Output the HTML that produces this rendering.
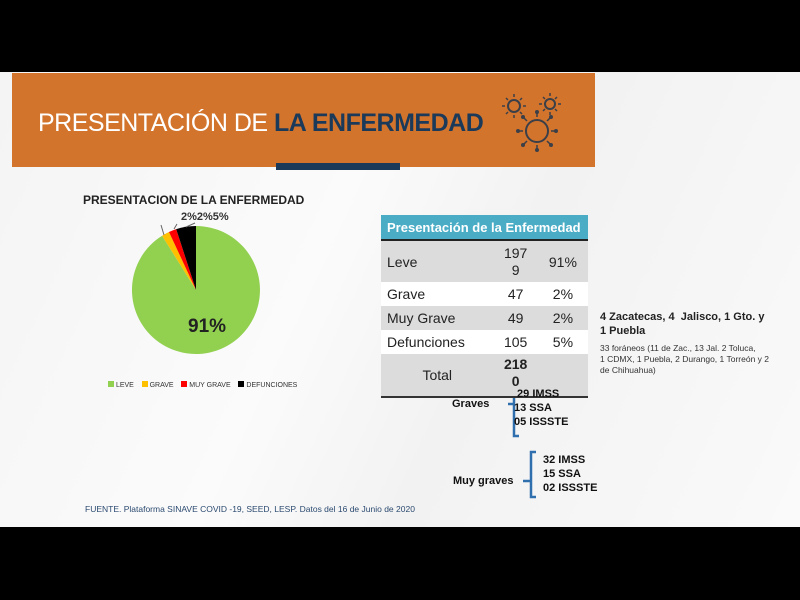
<!DOCTYPE html>
<html><head><meta charset="utf-8"><style>
body{margin:0;width:800px;height:600px;background:#000;position:relative;overflow:hidden;font-family:"Liberation Sans",sans-serif}
.slide{position:absolute;left:0;top:72px;width:800px;height:455px;background:linear-gradient(115deg,#f4f4f4 0%,#fbfbfb 40%,#f2f2f2 60%,#fafafa 100%)}
.hdr{position:absolute;left:12px;top:73px;width:583px;height:94px;background:#d3742d}
.title{position:absolute;left:38px;top:109px;font-size:25px;color:#fff;letter-spacing:-0.5px;white-space:nowrap}
.title b{color:#1b3a5a}
.bar{position:absolute;left:276px;top:163px;width:124px;height:7px;background:#1b3a5a}
.a{position:absolute;white-space:nowrap}
table{position:absolute;left:381px;top:215px;width:207px;border-collapse:collapse;font-size:14px;color:#222}
td{padding:0 6px}
</style></head><body>
<div class="slide"></div>
<div class="hdr"></div>
<div class="title">PRESENTACIÓN DE <b>LA ENFERMEDAD</b></div>
<div class="bar"></div>
<svg style="position:absolute;left:0;top:0" width="800" height="600">
<g fill="none" stroke="#3b3f48" stroke-width="2">
<circle cx="514" cy="106" r="6"/><circle cx="550" cy="104" r="5"/><circle cx="537" cy="131" r="11"/>
<g stroke-width="1.5">
<path d="M514 97v-3M514 115v3M505 106h-3M523 106h3M508 100l-2-2M520 112l2 2M520 100l2-2M508 112l-2 2"/>
<path d="M550 96v-3M550 112v3M542 104h-3M558 104h3M545 99l-2-2M555 109l2 2M555 99l2-2M545 109l-2 2"/>
<path d="M537 117v-4M537 145v4M523 131h-4M551 131h4M527 121l-3-3M547 141l3 3M547 121l3-3M527 141l-3 3"/>
</g></g>
<g fill="#3b3f48"><circle cx="537" cy="112" r="2"/><circle cx="537" cy="150" r="2"/><circle cx="518" cy="131" r="2"/><circle cx="556" cy="131" r="2"/><circle cx="523" cy="117" r="2"/><circle cx="551" cy="145" r="2"/><circle cx="551" cy="117" r="2"/><circle cx="523" cy="145" r="2"/></g>
<path d="M196 290 L196 226 A64 64 0 1 1 162.1 235.7 Z" fill="#92d050"/>
<path d="M196 290 L162.1 235.7 A64 64 0 0 1 169 232 Z" fill="#ffc000"/>
<path d="M196 290 L169 232 A64 64 0 0 1 176.2 229.1 Z" fill="#ff0000"/>
<path d="M196 290 L176.2 229.1 A64 64 0 0 1 196 226 Z" fill="#000"/>
<g stroke="#666" stroke-width="1"><line x1="164" y1="235" x2="161" y2="225"/><line x1="174" y1="229" x2="177" y2="224"/><line x1="186" y1="227" x2="195" y2="223"/></g>
<g fill="#2f6fae" stroke="#2f6fae"><path d="M519 376 h-5 v60 h5" fill="none" stroke-width="2.5"/><line x1="508" y1="404" x2="514" y2="404" stroke-width="2.5"/>
<path d="M536 452 h-5 v45 h5" fill="none" stroke-width="2.5"/><line x1="523" y1="481" x2="531" y2="481" stroke-width="2.5"/></g>
</svg>
<div class="a" style="left:83px;top:193px;font-size:12px;font-weight:bold;color:#222">PRESENTACION DE LA ENFERMEDAD</div>
<div class="a" style="left:181px;top:211px;font-size:11px;font-weight:bold;color:#333">2%2%5%</div>
<div class="a" style="left:188px;top:316px;font-size:19px;font-weight:bold;color:#222">91%</div>
<div class="a" style="left:108px;top:381px;font-size:7px;color:#333">
<span style="display:inline-block;width:6px;height:6px;background:#92d050"></span> LEVE &nbsp;&nbsp;
<span style="display:inline-block;width:6px;height:6px;background:#ffc000"></span> GRAVE &nbsp;&nbsp;
<span style="display:inline-block;width:6px;height:6px;background:#f00"></span> MUY GRAVE &nbsp;&nbsp;
<span style="display:inline-block;width:6px;height:6px;background:#000"></span> DEFUNCIONES</div>
<table>
<tr style="height:25px;background:#4bacc6;color:#fff;font-weight:bold;border-bottom:2px solid #222"><td colspan="3" style="font-size:13px">Presentación de la Enfermedad</td></tr>
<tr style="height:42px;background:#dcdcdc"><td>Leve</td><td style="text-align:center;line-height:17px">197<br>9</td><td style="text-align:center">91%</td></tr>
<tr style="height:24px;background:#fff"><td>Grave</td><td style="text-align:center">47</td><td style="text-align:center">2%</td></tr>
<tr style="height:24px;background:#dcdcdc"><td>Muy Grave</td><td style="text-align:center">49</td><td style="text-align:center">2%</td></tr>
<tr style="height:24px;background:#fff"><td>Defunciones</td><td style="text-align:center">105</td><td style="text-align:center">5%</td></tr>
<tr style="height:43px;background:#dcdcdc;border-bottom:2px solid #333"><td style="text-align:center">Total</td><td style="text-align:center;font-weight:bold;line-height:17px;vertical-align:top;padding-top:2px">218<br>0</td><td></td></tr>
</table>
<div class="a" style="left:514px;top:387px;font-size:11px;font-weight:bold;line-height:14px;color:#111">&nbsp;29 IMSS<br>13 SSA<br>05 ISSSTE</div>
<div class="a" style="left:452px;top:398px;font-size:11px;font-weight:bold;color:#111">Graves</div>
<div class="a" style="left:543px;top:453px;font-size:11px;font-weight:bold;line-height:14px;color:#111">32 IMSS<br>15 SSA<br>02 ISSSTE</div>
<div class="a" style="left:453px;top:475px;font-size:11px;font-weight:bold;color:#111">Muy graves</div>
<div class="a" style="left:600px;top:310px;font-size:11px;font-weight:bold;line-height:14px;color:#222">4 Zacatecas, 4 &nbsp;Jalisco, 1 Gto. y<br>1 Puebla</div>
<div class="a" style="left:600px;top:343px;font-size:8.5px;line-height:11px;color:#333">33 foráneos (11 de Zac., 13 Jal. 2 Toluca,<br>1 CDMX, 1 Puebla, 2 Durango, 1 Torreón y 2<br>de Chihuahua)</div>
<div class="a" style="left:85px;top:504px;font-size:8.5px;color:#2b4a70">FUENTE. Plataforma SINAVE COVID -19, SEED, LESP. Datos del 16 de Junio de 2020</div>
</body></html>
